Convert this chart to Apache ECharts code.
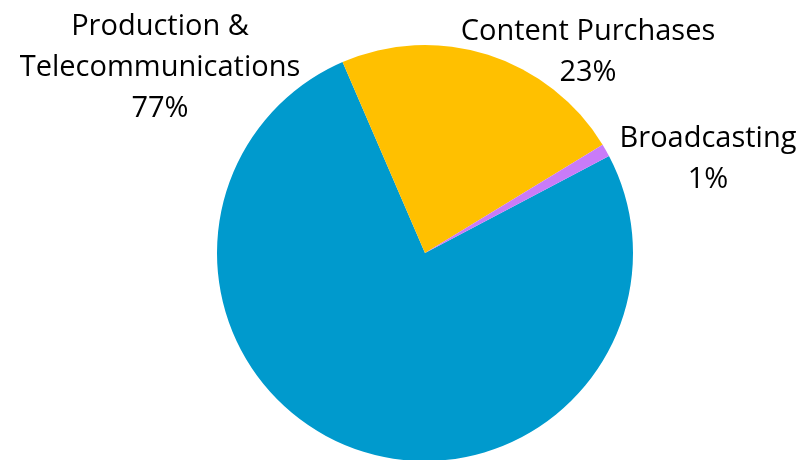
<!DOCTYPE html>
<html>
<head>
<meta charset="utf-8">
<script src="https://cdn.jsdelivr.net/npm/echarts@6/dist/echarts.min.js"></script>
<style>
  html, body { margin: 0; padding: 0; background: #ffffff; }
  #chart { width: 802px; height: 460px; }
</style>
</head>
<body>
<div id="chart"></div>
<script>
// Spending breakdown (percent of total)
const categories = ['Production &\nTelecommunications', 'Content Purchases', 'Broadcasting'];
const shares = [77, 23, 1];
const sliceColors = ['#009ACD', '#FFC000', '#C97BF8'];

// Fixed label anchors (block centres) for each slice
const labelSpots = [
  { x: 160, y: 68 },
  { x: 588, y: 52 },
  { x: 708, y: 159 }
];

const chart = echarts.init(document.getElementById('chart'), null, { renderer: 'canvas' });

chart.setOption({
  animation: false,
  series: [{
    type: 'pie',
    center: [425, 253],
    radius: 208,
    startAngle: 27.8,
    clockwise: true,
    avoidLabelOverlap: false,
    data: categories.map((name, i) => ({
      name: name,
      value: shares[i],
      itemStyle: { color: sliceColors[i] }
    })),
    itemStyle: { borderWidth: 0 },
    emphasis: { disabled: true },
    label: {
      show: true,
      position: 'outside',
      formatter: p => p.name + '\n' + p.value + '%',
      color: '#000000',
      fontFamily: 'Open Sans',
      fontSize: 29,
      lineHeight: 41,
      align: 'center'
    },
    labelLine: { show: false },
    labelLayout: params => ({
      x: labelSpots[params.dataIndex].x,
      y: labelSpots[params.dataIndex].y,
      align: 'center',
      verticalAlign: 'middle'
    })
  }]
});
</script>
</body>
</html>
